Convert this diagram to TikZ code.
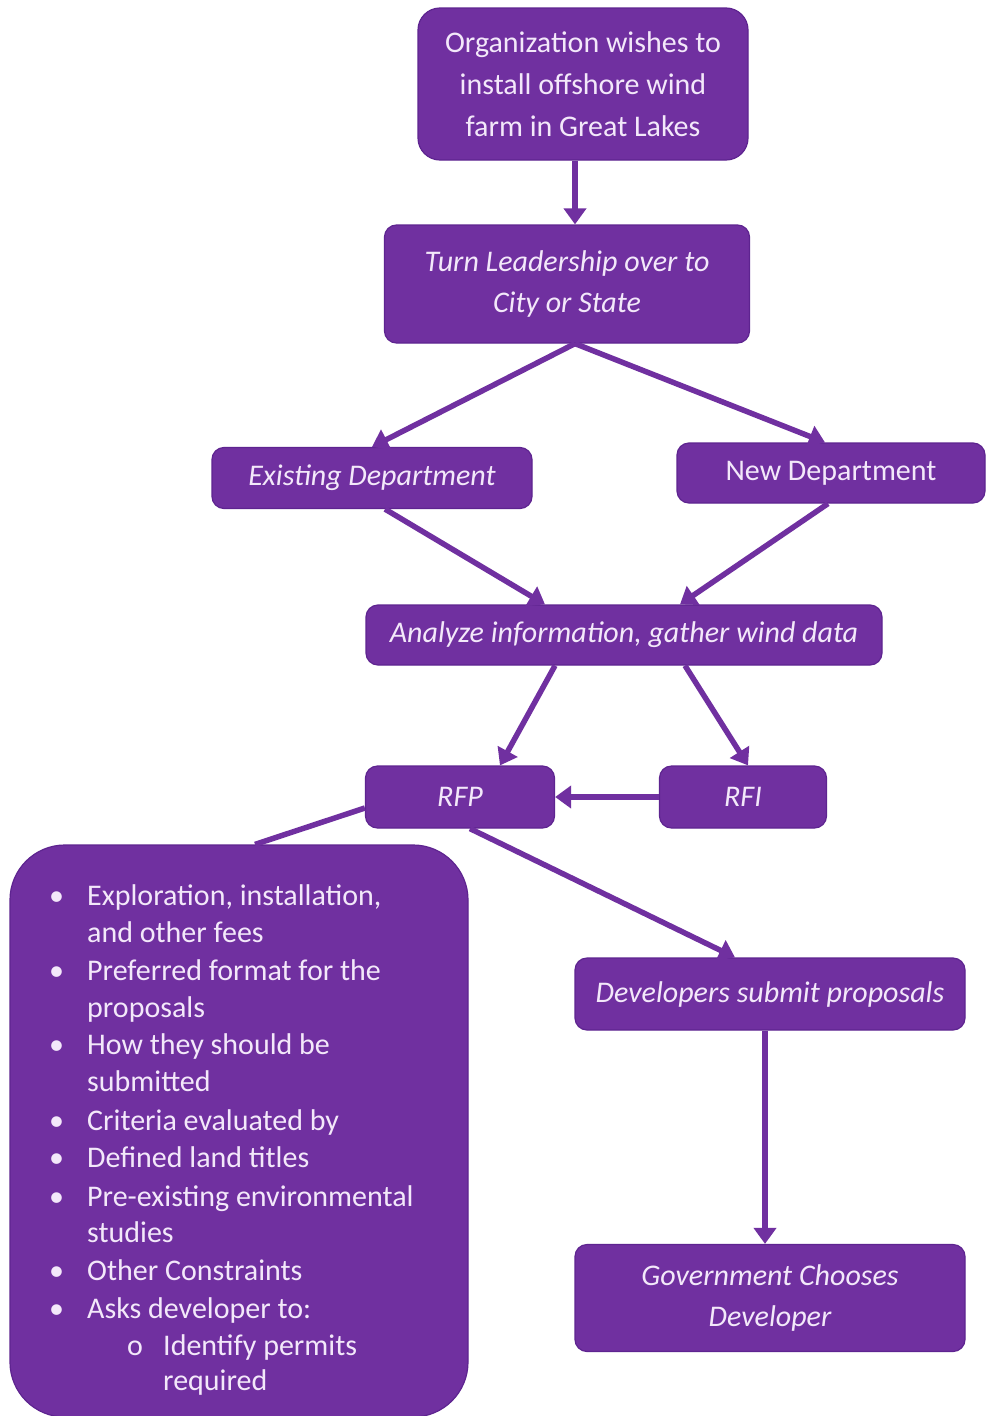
\documentclass[tikz,border=0pt]{standalone}
\usepackage{fontspec}
\setmainfont{Carlito}
\usetikzlibrary{arrows.meta}
\definecolor{boxfill}{HTML}{7030A0}
\definecolor{boxline}{HTML}{5E2490}
\definecolor{txt}{HTML}{F3E8FA}
\definecolor{arrowc}{HTML}{7030A0}
\tikzset{
  box/.style={draw=boxline, line width=1.2pt, fill=boxfill, text=txt, rounded corners=12pt,
    align=center, inner sep=0pt, font=\fontsize{30}{41}\selectfont},
  arr/.style={draw=arrowc, line width=5.5pt, -{Triangle[width=22pt,length=16pt]}},
  plain/.style={draw=arrowc, line width=5.5pt},
  btxt/.style={anchor=base west, inner sep=0pt, text=txt, font=\fontsize{30}{36}\selectfont},
}
\begin{document}
\begin{tikzpicture}[x=1pt,y=-1pt]
\useasboundingbox (0,0) rectangle (987,1416);
\fill[white] (0,0) rectangle (987,1416);

\node[box, rounded corners=22pt, minimum width=330pt, minimum height=152pt, font=\fontsize{30}{42}\selectfont] (top) at (583,84)
  {Organization wishes to\\install offshore wind\\farm in Great Lakes};
\node[box, minimum width=365pt, minimum height=118pt] (turn) at (567,284)
  {\itshape Turn Leadership over to\\\itshape City or State};
\node[box, minimum width=320pt, minimum height=61pt] (exist) at (372,478) {\itshape Existing Department};
\node[box, minimum width=308pt, minimum height=60pt] (new) at (831,473) {New Department};
\node[box, minimum width=516pt, minimum height=60pt] (ana) at (624,635) {\itshape Analyze information, gather wind data};
\node[box, minimum width=189pt, minimum height=62pt] (rfp) at (460,797) {\itshape RFP};
\node[box, minimum width=167pt, minimum height=62pt] (rfi) at (743,797) {\itshape RFI};
\node[box, minimum width=390pt, minimum height=72pt] (dev) at (770,994) {\itshape Developers submit proposals};
\node[box, minimum width=390pt, minimum height=107pt] (gov) at (770,1298) {\itshape Government Chooses\\\itshape Developer};
\node[box, rounded corners=55pt, minimum width=458pt, minimum height=572pt] (bul) at (239,1131) {};

% bullet list
\foreach \c/\t [count=\i] in {895/{Exploration, installation,},932/{and other fees},970/{Preferred format for the},1007/{proposals},1044/{How they should be},1081/{submitted},1120/{Criteria evaluated by},1157/{Defined land titles},1196/{Pre-existing environmental},1232/{studies},1270/{Other Constraints},1308/{Asks developer to:}}
  {\node[btxt] (bl\i) at (87,\c+10) {\t};}
\foreach \c [count=\i] in {895,970,1044,1120,1157,1196,1270,1308}
  {\node[btxt] (dot\i) at (49,\c+10) {•};}
\node[btxt] (so) at (127,1345+10) {o};
\node[btxt] (s1) at (163,1345+10) {Identify permits};
\node[btxt] (s2) at (163,1380+10) {required};

% connectors
\draw[arr] ([xshift=-8pt]top.south) -- ([xshift=8pt]turn.north);
\draw[arr] ([xshift=8pt]turn.south) -- (exist.north);
\draw[arr] ([xshift=8pt]turn.south) -- ([xshift=-6pt]new.north);
\draw[arr] ([xshift=13pt]exist.south) -- ([xshift=-79pt]ana.north);
\draw[arr] ([xshift=-3pt]new.south) -- ([xshift=56pt]ana.north);
\draw[arr] ([xshift=-69pt]ana.south) -- ([xshift=40pt]rfp.north);
\draw[arr] ([xshift=61pt]ana.south) -- ([xshift=5pt]rfi.north);
\draw[arr] (rfi.west) -- (rfp.east);
\draw[plain] ([yshift=-11pt]rfp.west) -- ([xshift=16pt]bul.north);
\draw[arr] ([xshift=10pt]rfp.south) -- ([xshift=-35pt]dev.north);
\draw[arr] ([xshift=-5pt]dev.south) -- ([xshift=-5pt]gov.north);
\end{tikzpicture}
\end{document}
